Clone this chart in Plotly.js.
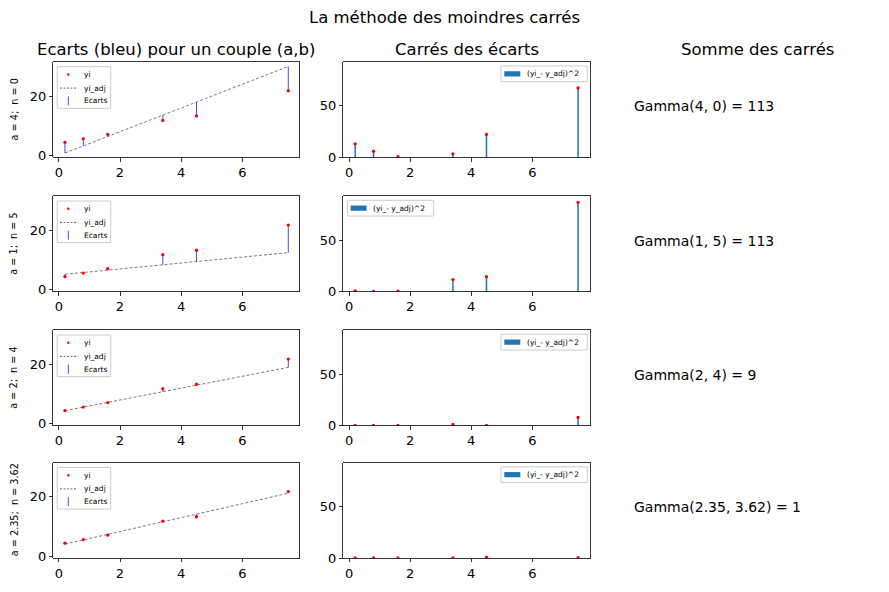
<!DOCTYPE html>
<html><head><meta charset="utf-8">
<script src="https://cdn.plot.ly/plotly-3.0.1.min.js"></script>
<style>body{margin:0;background:#fff}</style>
</head><body><div id="chart" style="width:889px;height:592px"></div>
<script>
// ---- data ----
const xi = [0.2, 0.8, 1.6, 3.4, 4.5, 7.5];
const yi = [4.4, 5.6, 7.1, 11.8, 13.3, 21.8];
const aVals = [4, 1, 2, 2.35];
const nVals = [0, 5, 4, 3.62];
const rowLabels = ["a = 4;  n = 0", "a = 1;  n = 5", "a = 2;  n = 4", "a = 2.35;  n = 3.62"];
const gammaLabels = ["Gamma(4, 0) = 113", "Gamma(1, 5) = 113", "Gamma(2, 4) = 9", "Gamma(2.35, 3.62) = 1"];
const legendSide = ["right", "left", "right", "right"];
const legendNames1 = ["yi", "yi_adj", "Ecarts"];
const legendName2 = "(yi_- y_adj)^2";
const xTicks = [0, 2, 4, 6];
const yTicksLeft = [0, 20];
const yTicksRight = [0, 50];

// ---- layout geometry (pixels) ----
const W = 889, H = 592;
const col1 = [53.3, 299.3], col2 = [343.3, 590], col3Left = 634;
const rowTops = [61.7, 196, 330, 462.5], rowH = 95.5;
const FONT = "DejaVu Sans, Arial, sans-serif";
const BLUE_V = "rgba(0,0,255,0.72)";

const px = v => v / W;
const py = v => 1 - v / H;

const traces = [];
const layout = {
  width: W, height: H,
  margin: {l: 0, r: 0, t: 0, b: 0},
  paper_bgcolor: "white", plot_bgcolor: "white",
  font: {family: FONT, color: "black"},
  showlegend: false,
  annotations: [], shapes: []
};

function axisBase(domain, range, ticks, anchor) {
  return {
    domain: domain, range: range, anchor: anchor,
    tickmode: "array", tickvals: ticks, ticktext: ticks.map(String),
    ticks: "outside", ticklen: 3.5, tickwidth: 0.8, tickcolor: "black",
    showline: true, linecolor: "black", linewidth: 0.8, mirror: true,
    showgrid: false, zeroline: false,
    tickfont: {size: 13, family: FONT, color: "black"}
  };
}
function rectPx(x0, y0, x1, y1, style) {
  return Object.assign({type: "rect", xref: "paper", yref: "paper",
    x0: px(x0), x1: px(x1), y0: py(y1), y1: py(y0), layer: "above"}, style);
}
function linePx(x0, y0, x1, y1, style) {
  return Object.assign({type: "line", xref: "paper", yref: "paper",
    x0: px(x0), x1: px(x1), y0: py(y0), y1: py(y1), layer: "above"}, style);
}
function textPx(x, y, text, size) {
  return {xref: "paper", yref: "paper", x: px(x), y: py(y), text: text, showarrow: false,
    xanchor: "left", yanchor: "middle", font: {size: size, family: FONT, color: "black"}};
}

for (let r = 0; r < 4; r++) {
  const a = aVals[r], n = nVals[r];
  const adj = xi.map(x => a * x + n);
  const sq = yi.map((y, i) => (y - adj[i]) * (y - adj[i]));
  const T = rowTops[r];
  const ydom = [py(T + rowH), py(T)];
  const k1 = r * 2 + 1, k2 = r * 2 + 2;

  layout["xaxis" + k1] = axisBase([px(col1[0]), px(col1[1])], [-0.18, 7.86], xTicks, "y" + k1);
  layout["yaxis" + k1] = axisBase(ydom, [-0.6, 31.6], yTicksLeft, "x" + k1);
  layout["xaxis" + k2] = axisBase([px(col2[0]), px(col2[1])], [-0.19, 7.89], xTicks, "y" + k2);
  layout["yaxis" + k2] = axisBase(ydom, [0, 92.8], yTicksRight, "x" + k2);

  // Ecarts segments
  const sx = [], sy = [];
  xi.forEach((x, i) => { sx.push(x, x, null); sy.push(yi[i], adj[i], null); });
  traces.push({x: sx, y: sy, xaxis: "x" + k1, yaxis: "y" + k1, mode: "lines",
    line: {color: BLUE_V, width: 1}, hoverinfo: "skip"});
  traces.push({x: xi, y: adj, xaxis: "x" + k1, yaxis: "y" + k1, mode: "lines",
    line: {color: "#222", width: 0.6, dash: "3px,2px"}});
  traces.push({x: xi, y: yi, xaxis: "x" + k1, yaxis: "y" + k1, mode: "markers",
    marker: {color: "red", size: 3.3}});

  traces.push({type: "bar", x: xi, y: sq, width: 0.05, xaxis: "x" + k2, yaxis: "y" + k2,
    marker: {color: "#1f77b4", line: {width: 0}}});
  traces.push({x: xi, y: sq, xaxis: "x" + k2, yaxis: "y" + k2, mode: "markers",
    marker: {color: "red", size: 3.3}});

  // ---- legend, column 1 ----
  const L = col1[0];
  layout.shapes.push(rectPx(L + 4, T + 5, L + 57.4, T + 46.6,
    {line: {color: "#cccccc", width: 1}, fillcolor: "rgba(255,255,255,0.8)"}));
  const ey = [T + 12.8, T + 26.4, T + 39.2];
  layout.shapes.push({type: "circle", xref: "paper", yref: "paper", layer: "above",
    x0: px(L + 13.8), x1: px(L + 16.2), y0: py(ey[0] + 1.2), y1: py(ey[0] - 1.2),
    fillcolor: "red", line: {width: 0}});
  layout.shapes.push(linePx(L + 6.7, ey[1], L + 24.4, ey[1], {line: {color: "#222", width: 0.7, dash: "2px,1.5px"}}));
  layout.shapes.push(linePx(L + 15, ey[2] - 4.5, L + 15, ey[2] + 4.5, {line: {color: BLUE_V, width: 1}}));
  legendNames1.forEach((nm, i) => layout.annotations.push(textPx(L + 28.5, ey[i], nm, 7.5)));

  // ---- legend, column 2 ----
  const bw = 86.3, bh = 15.7;
  const bx0 = legendSide[r] === "right" ? col2[1] - 2.7 - bw : col2[0] + 4;
  const by0 = T + 4.3;
  layout.shapes.push(rectPx(bx0, by0, bx0 + bw, by0 + bh,
    {line: {color: "#cccccc", width: 1}, fillcolor: "rgba(255,255,255,0.8)"}));
  layout.shapes.push(rectPx(bx0 + 3.3, by0 + bh / 2 - 2.6, bx0 + 19.3, by0 + bh / 2 + 2.6,
    {line: {width: 0}, fillcolor: "#1f77b4"}));
  layout.annotations.push(textPx(bx0 + 23.5, by0 + bh / 2, legendName2, 7.5));

  // row label
  layout.annotations.push({xref: "paper", yref: "paper", x: px(14), y: py(T + rowH / 2),
    text: rowLabels[r], textangle: -90, showarrow: false, xanchor: "center", yanchor: "middle",
    font: {size: 9.7, family: FONT, color: "black"}});
  // gamma text
  layout.annotations.push({xref: "paper", yref: "paper", x: px(col3Left - 2), y: py(T + rowH / 2 - 3),
    text: gammaLabels[r], showarrow: false, xanchor: "left", yanchor: "middle",
    font: {size: 14, family: FONT, color: "black"}});
}

// titles
const titleFont = {size: 16.5, family: FONT, color: "black"};
layout.annotations.push({xref: "paper", yref: "paper", x: px(444.5), y: py(17), text: "La méthode des moindres carrés",
  showarrow: false, xanchor: "center", yanchor: "middle", font: titleFont});
layout.annotations.push({xref: "paper", yref: "paper", x: px((col1[0] + col1[1]) / 2), y: py(50), text: "Ecarts (bleu) pour un couple (a,b)",
  showarrow: false, xanchor: "center", yanchor: "middle", font: titleFont});
layout.annotations.push({xref: "paper", yref: "paper", x: px((col2[0] + col2[1]) / 2), y: py(50), text: "Carrés des écarts",
  showarrow: false, xanchor: "center", yanchor: "middle", font: titleFont});
layout.annotations.push({xref: "paper", yref: "paper", x: px(757), y: py(50), text: "Somme des carrés",
  showarrow: false, xanchor: "center", yanchor: "middle", font: titleFont});

Plotly.newPlot("chart", traces, layout, {displayModeBar: false, staticPlot: true});
</script>
</body></html>
